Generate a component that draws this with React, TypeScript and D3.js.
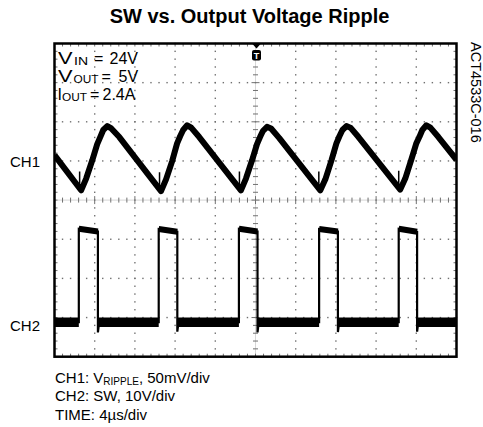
import React from 'react';
import * as d3 from 'd3';

const W = 483, H = 427;
const FONT = '"Liberation Sans", Arial, Helvetica, sans-serif';

// scope screen: 10 x 8 divisions, 4 us/div, trigger at t = 0
const timeDomain = [-20, 20];
const divDomain = [-4, 4];

// CH1: output ripple in mV (50 mV/div), trace reference at +1.05 div
const ch1Offset = 1.05;
const ch1Time = [
  -20,
  -17.35, -16.85, -16.25, -15.75, -15.45, -15.15, -14.75, -14.35, -13.55,
  -9.4, -8.9, -8.3, -7.8, -7.5, -7.2, -6.8, -6.4, -5.6,
  -1.45, -0.95, -0.35, 0.15, 0.45, 0.75, 1.15, 1.55, 2.35,
  6.45, 6.95, 7.55, 8.05, 8.35, 8.65, 9.05, 9.45, 10.25,
  14.4, 14.9, 15.5, 16.0, 16.3, 16.6, 17.0, 17.4, 18.2,
  20,
];
const ch1mV = [
  5,
  -40, -25, -2, 19, 28, 37, 42, 39, 28,
  -41, -26, -3, 20, 29, 37, 43, 40, 28,
  -40, -25, -2, 19, 28, 36, 41, 39, 27,
  -40, -26, -2, 20, 29, 37, 42, 40, 28,
  -39, -25, -1, 20, 28, 37, 43, 40, 28,
  -1,
];
const ch1SpikeTime = [-17.35, -9.4, -1.45, 6.45, 14.4];
const ch1SpikeTop = [-16, -17, -16, -16, -15];

// CH2: switch node in V (10 V/div), ground at -3.12 div
const ch2Offset = -3.12;
const swRise = [-17.58, -9.63, -1.65, 6.33, 14.25];
const swFall = [-15.68, -7.78, 0.2, 8.2, 16.08];
const swHighStart = [23.9, 23.8, 23.9, 23.8, 23.9];
const swHighEnd = [23.2, 23.1, 23.2, 23.2, 23.1];
const swUndershoot = [-2.6, -2.4, -2.6, -2.5, -2.4];
const swLow = 0;

const topNotes = [
  { main: 'V', mainLen: 14.5, sub: 'IN', subX: 74, subLen: 14, eqX: 94, val: '24V', valX: 109.5 },
  { main: 'V', mainLen: 14.5, sub: 'OUT', subX: 73.5, subLen: 25, eqX: 101.5, val: '5V', valX: 118.5 },
  { main: 'I', mainLen: 0, sub: 'OUT', subX: 62, subLen: 25, eqX: 90, val: '2.4A', valX: 102.5 },
];
const footLines = [
  ['CH1: V', 'RIPPLE', ', 50mV/div'],
  ['CH2: SW, 10V/div'],
  ['TIME: 4\u00b5s/div'],
];
const chLabels = [
  { name: 'CH1', y: 166.5 },
  { name: 'CH2', y: 331 },
];

const x = d3.scaleLinear().domain(timeDomain).range([54.5, 456.5]);
const y = d3.scaleLinear().domain(divDomain).range([356.7, 43.5]);
const y1 = (mv: number) => y(ch1Offset + mv / 50);
const y2 = (v: number) => y(ch2Offset + v / 10);
const xd = d3.scaleLinear().domain([-5, 5]).range([54.5, 456.5]);

export default function App() {
  const ch1Line = d3.line<number>()
    .x((_, i) => x(ch1Time[i]))
    .y((d) => y1(d))(ch1mV);

  const swPts: [number, number][] = [[-20, swLow]];
  swRise.forEach((r, i) => {
    swPts.push([r, swLow], [r, swHighStart[i]], [swFall[i], swHighEnd[i]],
      [swFall[i], swUndershoot[i]], [swFall[i] + 0.12, swLow]);
  });
  swPts.push([20, swLow]);
  const swLine = d3.line<[number, number]>()
    .x((d) => x(d[0])).y((d) => y2(d[1]))(swPts);

  const lows: [number, number][] = [[-20, swRise[0]]];
  swFall.forEach((f, i) => lows.push([f, i + 1 < swRise.length ? swRise[i + 1] : 20]));

  const minor = d3.range(-25, 26).map((k) => k / 5); // x divs
  const minorY = d3.range(-20, 21).map((k) => k / 5);
  const gridGray = '#707070';

  const dots: JSX.Element[] = [];
  [-4, -3, -2, -1, 1, 2, 3, 4].forEach((gx) =>
    minorY.forEach((gy) => dots.push(
      <rect key={`v${gx}_${gy}`} x={xd(gx) - 0.7} y={y(gy) - 0.7} width={1.4} height={1.4} fill={gridGray} />)));
  [-3, -2, -1, 1, 2, 3].forEach((gy) =>
    minor.forEach((gx) => dots.push(
      <rect key={`h${gx}_${gy}`} x={xd(gx) - 0.7} y={y(gy) - 0.7} width={1.4} height={1.4} fill={gridGray} />)));

  const ticks: JSX.Element[] = [];
  minor.forEach((gx, i) => {
    const major = Math.abs(gx - Math.round(gx)) < 1e-6;
    const h = major ? 4 : 2.5;
    ticks.push(<line key={`ct${i}`} x1={xd(gx)} x2={xd(gx)} y1={y(0) - h} y2={y(0) + h} stroke={gridGray} strokeWidth={1} />);
    ticks.push(<line key={`tt${i}`} x1={xd(gx)} x2={xd(gx)} y1={y(4)} y2={y(4) + 3} stroke={gridGray} strokeWidth={1} />);
    ticks.push(<line key={`bt${i}`} x1={xd(gx)} x2={xd(gx)} y1={y(-4)} y2={y(-4) - 3} stroke={gridGray} strokeWidth={1} />);
  });
  minorY.forEach((gy, i) => {
    const major = Math.abs(gy - Math.round(gy)) < 1e-6;
    const w = major ? 4 : 2.5;
    ticks.push(<line key={`cv${i}`} x1={xd(0) - w} x2={xd(0) + w} y1={y(gy)} y2={y(gy)} stroke={gridGray} strokeWidth={1} />);
    ticks.push(<line key={`lt${i}`} x1={xd(-5)} x2={xd(-5) + 3} y1={y(gy)} y2={y(gy)} stroke={gridGray} strokeWidth={1} />);
    ticks.push(<line key={`rt${i}`} x1={xd(5)} x2={xd(5) - 3} y1={y(gy)} y2={y(gy)} stroke={gridGray} strokeWidth={1} />);
  });

  const cx = x(0) + 1;

  return (
    <svg width={W} height={H} style={{ position: 'absolute', left: 0, top: 0, background: '#fff' }} fontFamily={FONT}>
      <rect width={W} height={H} fill="#fff" />
      <text x={249.5} y={23} textAnchor="middle" fontSize={20} fontWeight="bold">SW vs. Output Voltage Ripple</text>

      <defs>
        <clipPath id="plot">
          <rect x={xd(-5)} y={y(4)} width={xd(5) - xd(-5)} height={y(-4) - y(4)} />
        </clipPath>
      </defs>

      {dots}
      <line x1={xd(-5)} x2={xd(5)} y1={y(0)} y2={y(0)} stroke="#999" strokeWidth={0.8} strokeDasharray="1 1" />
      <line x1={xd(0)} x2={xd(0)} y1={y(4)} y2={y(-4)} stroke="#999" strokeWidth={0.8} strokeDasharray="1 1" />
      {ticks}

      <g clipPath="url(#plot)">
        <path d={ch1Line ?? ''} fill="none" stroke="#000" strokeWidth={6} strokeLinejoin="round" />
        {ch1SpikeTime.map((t, i) => (
          <line key={`sp${i}`} x1={x(t) - 1.5} x2={x(t) - 1.5} y1={y1(ch1mV[ch1Time.indexOf(t)])} y2={y1(ch1SpikeTop[i])} stroke="#000" strokeWidth={1.5} />
        ))}
        <path d={swLine ?? ''} fill="none" stroke="#000" strokeWidth={2.2} />
        {lows.map((s, i) => (
          <line key={`lo${i}`} x1={x(s[0])} x2={x(s[1])} y1={y2(swLow)} y2={y2(swLow)} stroke="#000" strokeWidth={9.5} />
        ))}
        {swRise.map((r, i) => (
          <line key={`hi${i}`} x1={x(r)} x2={x(swFall[i])} y1={y2(swHighStart[i])} y2={y2(swHighEnd[i])} stroke="#000" strokeWidth={6} />
        ))}
      </g>

      <rect x={xd(-5)} y={y(4)} width={xd(5) - xd(-5)} height={y(-4) - y(4)} fill="none" stroke="#000" strokeWidth={2.5} />

      {/* trigger marker */}
      <path d={`M${cx - 4.5},${y(4)} L${cx + 4.5},${y(4)} L${cx},${y(4) + 5} Z`} fill="#000" />
      <rect x={cx - 4.5} y={50} width={9} height={10.5} rx={2} fill="#000" />
      <text x={cx} y={58.5} textAnchor="middle" fontSize={9} fontWeight="bold" fill="#fff">T</text>

      {topNotes.map((n, i) => {
        const base = 64 + i * 18;
        return (
          <g key={`tn${i}`} fontSize={16}>
            {n.mainLen > 0
              ? <text x={58} y={base} textLength={n.mainLen} lengthAdjust="spacingAndGlyphs">{n.main}</text>
              : <text x={57.5} y={base}>{n.main}</text>}
            <text x={n.subX} y={base + 1} fontSize={10.5} textLength={n.subLen} lengthAdjust="spacingAndGlyphs">{n.sub}</text>
            <text x={n.eqX} y={base}>=</text>
            <text x={n.valX} y={base}>{n.val}</text>
          </g>
        );
      })}

      {chLabels.map((c) => (
        <text key={c.name} x={10} y={c.y} fontSize={15}>{c.name}</text>
      ))}

      <text transform="translate(470.5,42) rotate(90)" fontSize={14.5}>ACT4533C-016</text>

      {footLines.map((l, i) => (
        <text key={`fl${i}`} x={55} y={383 + i * 18.3} fontSize={15}>
          {l[0]}
          {l[1] && <tspan fontSize={10} dy={2}>{l[1]}</tspan>}
          {l[2] && <tspan dy={-2}>{l[2]}</tspan>}
        </text>
      ))}
    </svg>
  );
}
